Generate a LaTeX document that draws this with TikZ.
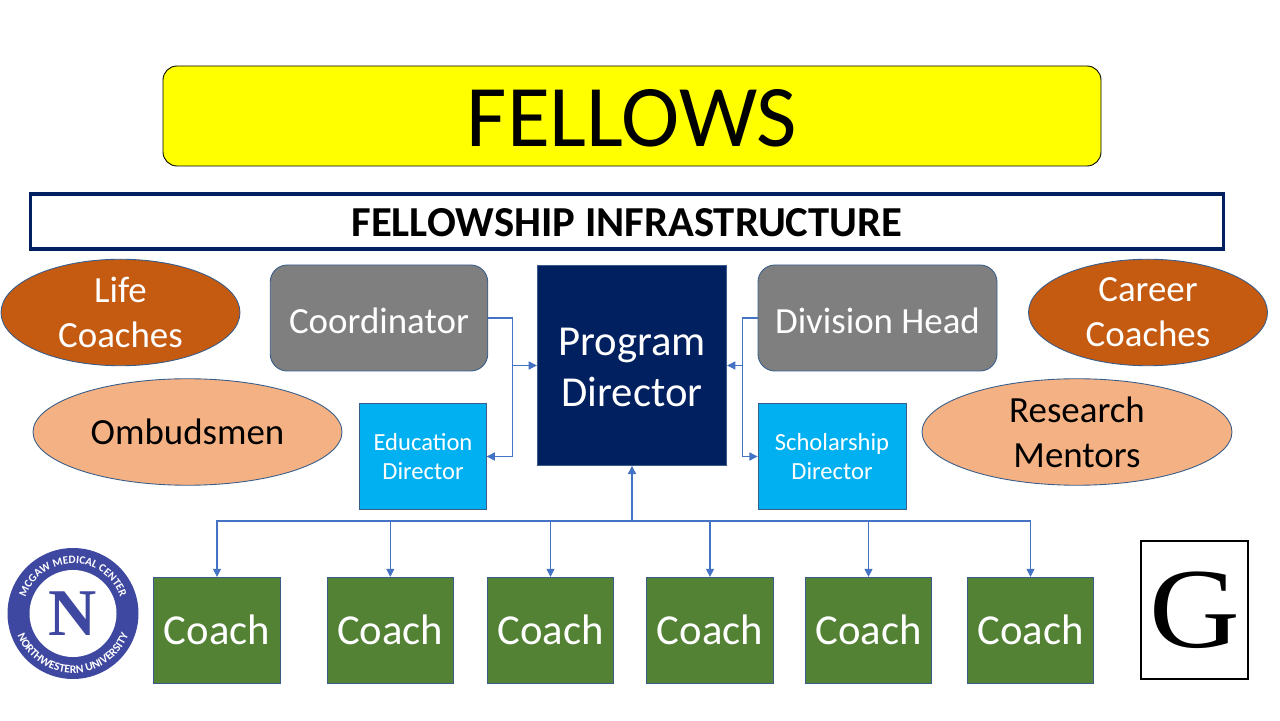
\documentclass[tikz,border=0pt]{standalone}
\usepackage{fontspec}
\setmainfont{Carlito}
\newfontfamily\serifmark{Liberation Serif}
\usepackage{xcolor}
\definecolor{fellowyellow}{HTML}{FFFF00}
\definecolor{navyblue}{HTML}{002060}
\definecolor{rustorange}{HTML}{C55A11}
\definecolor{paleorange}{HTML}{F4B183}
\definecolor{midgray}{HTML}{7F7F7F}
\definecolor{skyblue}{HTML}{00B0F0}
\definecolor{coachgreen}{HTML}{548235}
\definecolor{edgeblue}{HTML}{385D8A}
\definecolor{linkblue}{HTML}{4472C4}
\definecolor{sealblue}{HTML}{3F48A0}
\usetikzlibrary{arrows.meta, positioning, shapes.geometric, calc,
                decorations.text}

\begin{document}
\begin{tikzpicture}[
    box/.style={draw=edgeblue, line width=0.5pt, inner sep=0pt, align=center},
    coach ellipse/.style={box, ellipse, fill=rustorange, text=white,
                   font=\fontsize{21}{25.6}\selectfont},
    mentor ellipse/.style={box, ellipse, fill=paleorange, text=black,
                   font=\fontsize{21}{25.6}\selectfont},
    staff box/.style={box, rounded corners=0.34cm, fill=midgray, text=white,
                   minimum height=2.12cm, text height=17.1pt, text depth=0pt,
                   font=\fontsize{21}{25.6}\selectfont},
    director box/.style={box, fill=skyblue, text=white, minimum height=2.11cm,
                   font=\fontsize{14}{16.5}\selectfont},
    coach box/.style={box, fill=coachgreen, text=white, minimum height=2.12cm,
                   font=\fontsize{24.3}{29}\selectfont},
    link/.style={draw=linkblue, line width=0.6pt},
    arrow/.style={link, -{Triangle[length=4.6pt,width=4.6pt]}},
    seal text/.style={decorate, decoration={text along path, text align=center,
                   text color=white}}
  ]
    \useasboundingbox (0,0) rectangle (25.6,14.4);

    % Banner and title
    \node[box, draw=black, rounded corners=0.28cm, fill=fellowyellow,
          minimum width=18.76cm, minimum height=2cm, text height=34.5pt, text depth=0pt,
          font=\fontsize{50}{60}\selectfont] (fellows) at (12.64,12.08) {FELLOWS};
    \node[box, draw=navyblue, line width=2pt, minimum width=23.86cm,
          minimum height=1.1cm, text height=17.3pt, text depth=0pt,
          font=\fontsize{24.3}{29}\selectfont\bfseries]
      (infrastructure) at (12.54,9.97) {FELLOWSHIP INFRASTRUCTURE};

    % Ellipses
    \node[coach ellipse, minimum width=4.78cm, minimum height=2.13cm]
      (life) at (2.41,8.15) {Life\\Coaches};
    \node[coach ellipse, minimum width=4.78cm, minimum height=2.13cm]
      (career) at (22.96,8.15) {Career\\Coaches};
    \node[mentor ellipse, minimum width=6.18cm, minimum height=2.13cm]
      (ombudsmen) at (3.75,5.76) {Ombudsmen};
    \node[mentor ellipse, minimum width=6.2cm, minimum height=2.13cm]
      (research) at (21.54,5.76) {Research\\Mentors};

    % Leadership
    \node[box, fill=navyblue, text=white, minimum width=3.79cm, minimum height=4cm,
          font=\fontsize{24.3}{29}\selectfont] (director) at (12.64,7.09)
      {\rule{0pt}{18.2pt}Program\\Director};
    \node[staff box, minimum width=4.35cm] (coordinator) at (7.58,8.04) {Coordinator};
    \node[staff box, minimum width=4.78cm] (head) at (17.55,8.04) {Division Head};
    \node[director box, minimum width=2.53cm] (education) at (8.46,5.27) {Education\\Director};
    \node[director box, minimum width=2.96cm] (scholarship) at (16.64,5.27) {Scholarship\\Director};

    % Coaches
    \foreach \i/\x/\w in {1/4.34/2.55,2/7.806/2.53,3/11.01/2.53,4/14.2/2.53,5/17.37/2.53,6/20.61/2.53}
      \node[coach box, minimum width=\w cm] (coach-\i) at (\x,1.794) {Coach};

    % Junctions
    \coordinate (join left) at (10.25,7.09);
    \coordinate (join right) at (14.855,7.09);
    \coordinate (join bottom) at (12.64,3.98);

    % Connections to the director
    \draw[arrow] (coordinator.east) -| (join left) -- (director.west);
    \draw[arrow] (join left) |- (education.east);
    \draw[arrow] (head.west) -| (join right) -- (director.east);
    \draw[arrow] (join right) |- (scholarship.west);
    \draw[arrow] (join bottom) -- (director.south);

    % Connections to the coaches
    \foreach \i in {1,...,6}
      \draw[arrow] (join bottom) -| (coach-\i.north);

    % Seal
    \node[circle, fill=sealblue, minimum size=2.62cm, inner sep=0pt] (seal) at (1.46,2.13) {};
    \node[circle, fill=white, minimum size=1.74cm, inner sep=0pt,
          text=sealblue, font=\fontsize{38}{38}\serifmark\bfseries] (seal N) at (seal) {N};
    \path[seal text, decoration={text={|\fontsize{6.4}{8}\selectfont\bfseries|MCGAW MEDICAL CENTER}}]
      (seal) ++(170:1.0) arc[start angle=170, end angle=10, radius=1.0];
    \path[seal text, decoration={text={|\fontsize{6.6}{8}\selectfont\bfseries|NORTHWESTERN UNIVERSITY}}]
      (seal) ++(185:1.19) arc[start angle=185, end angle=355, radius=1.19];

    % Grade mark
    \node[draw=black, line width=0.6pt, fill=white, inner sep=0pt, minimum width=2.14cm,
          minimum height=2.76cm, font=\fontsize{65}{65}\serifmark]
      (grade) at (23.89,2.2) {\scalebox{1.1}[1]{G}};
  \end{tikzpicture}
\end{document}
